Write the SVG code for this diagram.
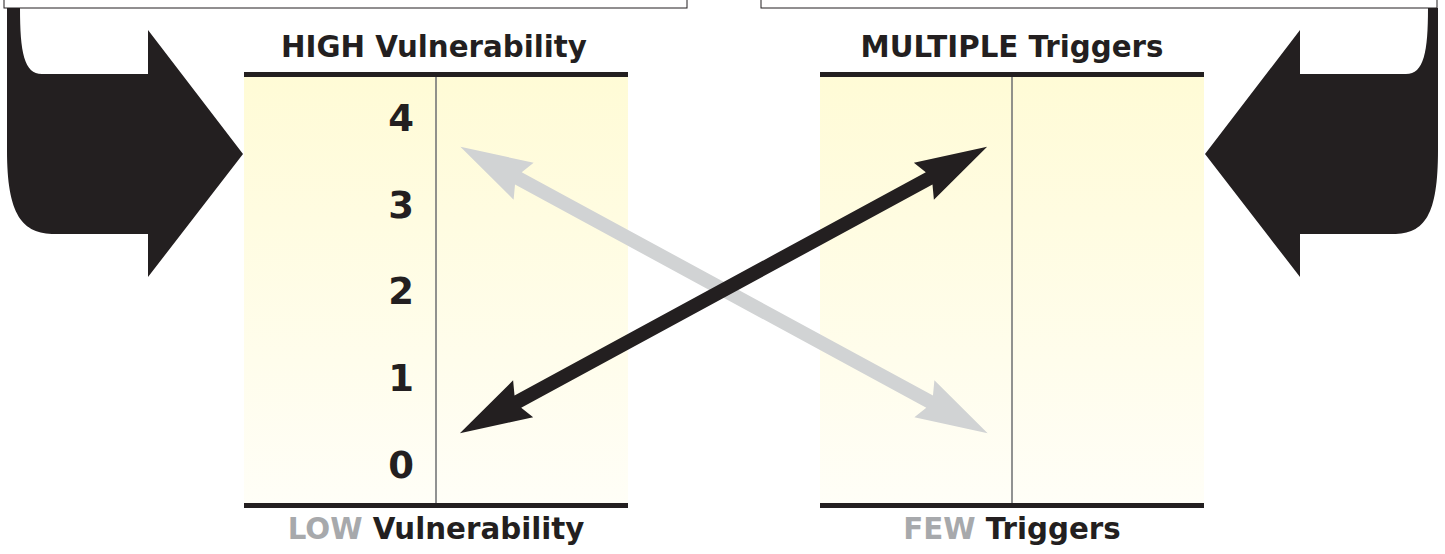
<svg xmlns="http://www.w3.org/2000/svg" width="1445" height="554" viewBox="0 0 1445 554">
  <defs>
    <linearGradient id="panelFill" x1="0" y1="0" x2="0" y2="1">
      <stop offset="0" stop-color="#FFFBD6"/>
      <stop offset="1" stop-color="#FFFEF7"/>
    </linearGradient>
    <style>
      .box { fill: #ffffff; stroke: #231f20; stroke-width: 1; }
      .bigarrow { fill: #231f20; }
      .panel { fill: url(#panelFill); }
      .bar { fill: #231f20; }
      .divider { stroke: #6d6e71; stroke-width: 1.5; fill: none; }
      .label { font-family: "DejaVu Sans", "Liberation Sans", sans-serif; font-weight: 700; font-size: 29.3px; fill: #231f20; text-anchor: middle; }
      .muted { fill: #a7a9ac; }
      .num { font-family: "DejaVu Sans", "Liberation Sans", sans-serif; font-weight: 700; font-size: 37px; fill: #231f20; text-anchor: end; }
      .darrow-black { fill: #231f20; }
      .darrow-gray { fill: #d1d3d4; }
    </style>
  </defs>

  <g id="top-box-left">
    <rect class="box" x="4" y="-10" width="683" height="18"/>
  </g>
  <g id="top-box-right">
    <rect class="box" x="761" y="-10" width="676" height="18"/>
  </g>

  <g id="big-arrow-left">
    <path class="bigarrow" d="M7,8 L7,150 C7,215 22,234 55,234 L148,234 L148,277 L243,154 L148,30 L148,74 L42,74 C24,74 20,52 20,8 Z"/>
  </g>
  <g id="big-arrow-right">
    <path class="bigarrow" d="M1438,8 L1438,150 C1438,215 1425,234 1393,234 L1300,234 L1300,277 L1205,154 L1300,30 L1300,74 L1406,74 C1424,74 1428,52 1428,8 Z"/>
  </g>

  <g id="panel-vulnerability">
    <rect class="panel" x="244" y="77" width="384" height="426"/>
    <rect class="bar" x="244" y="72" width="384" height="5"/>
    <rect class="bar" x="244" y="503" width="384" height="5"/>
    <line class="divider" x1="436" y1="77" x2="436" y2="503"/>
    <text class="label" x="434" y="57">HIGH Vulnerability</text>
    <text class="label" x="436" y="539"><tspan class="muted">LOW</tspan> Vulnerability</text>
    <text class="num" x="414" y="131">4</text>
    <text class="num" x="414" y="218">3</text>
    <text class="num" x="414" y="304">2</text>
    <text class="num" x="414" y="391">1</text>
    <text class="num" x="414" y="478">0</text>
  </g>

  <g id="panel-triggers">
    <rect class="panel" x="820" y="77" width="384" height="426"/>
    <rect class="bar" x="820" y="72" width="384" height="5"/>
    <rect class="bar" x="820" y="503" width="384" height="5"/>
    <line class="divider" x1="1012" y1="77" x2="1012" y2="503"/>
    <text class="label" x="1012" y="57">MULTIPLE Triggers</text>
    <text class="label" x="1012" y="539"><tspan class="muted">FEW</tspan> Triggers</text>
  </g>

  <g id="connectors">
    <polygon class="darrow-gray" transform="translate(724,290) rotate(28.5)" points="-300,0 -228,-21 -234,-7 234,-7 228,-21 300,0 228,21 234,7 -234,7 -228,21"/>
    <polygon class="darrow-black" transform="translate(723.5,290) rotate(-28.5)" points="-300,0 -228,-21 -234,-7 234,-7 228,-21 300,0 228,21 234,7 -234,7 -228,21"/>
  </g>
</svg>
